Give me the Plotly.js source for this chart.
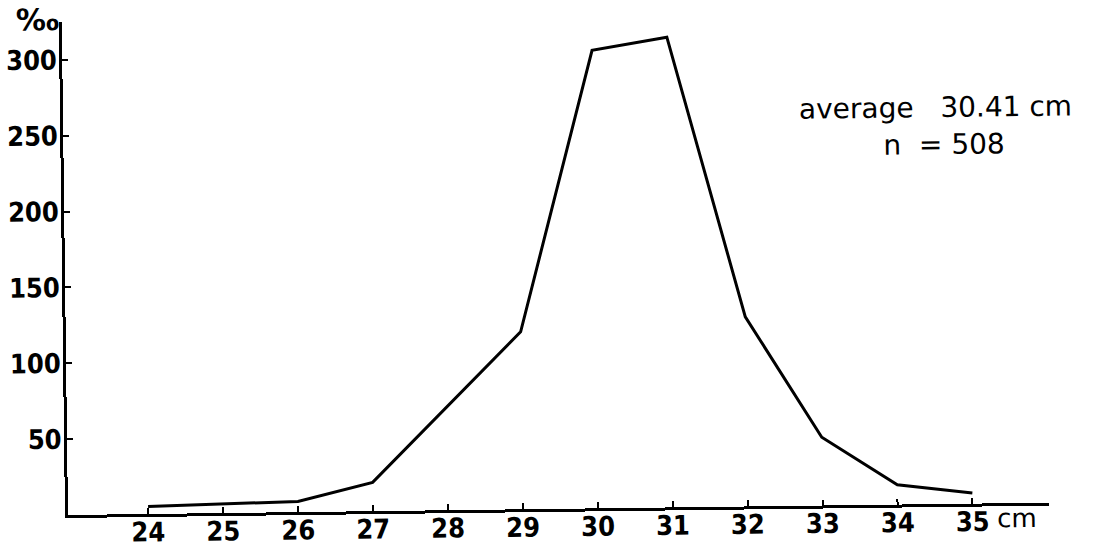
<!DOCTYPE html>
<html>
<head>
<meta charset="utf-8">
<script src="https://cdn.plot.ly/plotly-3.0.1.min.js"></script>
<style>
  html, body { margin: 0; padding: 0; background: #fff; }
  #chart { width: 1098px; height: 554px; transform: rotate(-0.72deg); transform-origin: 68px 515px; }
</style>
</head>
<body>
<div id="chart"></div>
<script>
// Length classes (cm) and frequency (per mille)
const lengths = [24, 25, 26, 27, 28, 29, 30, 31, 32, 33, 34, 35];
const perMille = [5, 6, 7, 19, 68, 117, 302, 310, 125, 45, 13, 7];
const yTicks = [50, 100, 150, 200, 250, 300];
const xTicks = [24, 25, 26, 27, 28, 29, 30, 31, 32, 33, 34, 35];
const averageText = 'average\u00a0\u00a0\u00a030.41\u00a0cm';
const nText = 'n\u00a0\u00a0=\u00a0508';

const tickFont = { family: '"DejaVu Sans Condensed", "Liberation Sans Narrow", sans-serif', size: 27, color: '#000', weight: 'bold' };

const trace = {
  x: lengths,
  y: perMille,
  type: 'scatter',
  mode: 'lines',
  line: { color: '#000', width: 3 },
  hoverinfo: 'x+y'
};

const layout = {
  width: 1098,
  height: 554,
  margin: { l: 68, r: 49, t: 22, b: 39, pad: 0 },
  paper_bgcolor: '#fff',
  plot_bgcolor: '#fff',
  showlegend: false,
  xaxis: {
    range: [22.93, 36.02],
    tickvals: xTicks,
    ticktext: xTicks.map(String),
    ticks: 'inside',
    ticklen: 6,
    tickwidth: 2,
    tickcolor: '#000',
    showline: true,
    linecolor: '#000',
    linewidth: 3,
    showgrid: false,
    zeroline: false,
    tickfont: tickFont,
    ticklabelstandoff: -8
  },
  yaxis: {
    range: [0, 325],
    tickvals: yTicks,
    ticktext: yTicks.map(String),
    ticks: 'inside',
    ticklen: 6,
    tickwidth: 2,
    tickcolor: '#000',
    showline: true,
    linecolor: '#000',
    linewidth: 3,
    showgrid: false,
    zeroline: false,
    tickfont: tickFont,
    ticklabelstandoff: -3
  },
  annotations: [
    { xref: 'paper', yref: 'paper', x: -0.025, y: 1.005, text: '‰', showarrow: false,
      xanchor: 'center', yanchor: 'middle', font: { family: '"DejaVu Sans", sans-serif', size: 30, color: '#000', weight: 'bold' } },
    { xref: 'x', yref: 'paper', x: 35.3, y: 0, yshift: 2, text: 'cm', showarrow: false,
      xanchor: 'left', yanchor: 'top', font: { family: '"DejaVu Sans", sans-serif', size: 26, color: '#000' } },
    { xref: 'paper', yref: 'paper', x: 0.889, y: 0.805, text: averageText, showarrow: false,
      xanchor: 'center', yanchor: 'middle', font: { family: '"DejaVu Sans", sans-serif', size: 28, color: '#000' } },
    { xref: 'paper', yref: 'paper', x: 0.898, y: 0.730, text: nText, showarrow: false,
      xanchor: 'center', yanchor: 'middle', font: { family: '"DejaVu Sans", sans-serif', size: 28, color: '#000' } }
  ]
};

Plotly.newPlot('chart', [trace], layout, { displayModeBar: false, staticPlot: true });
</script>
</body>
</html>
